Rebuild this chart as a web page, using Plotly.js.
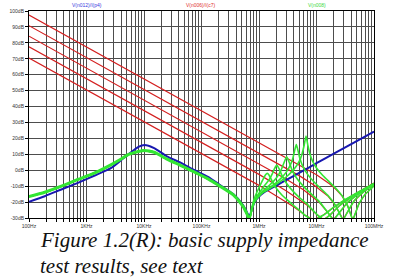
<!DOCTYPE html>
<html>
<head>
<meta charset="utf-8">
<script src="https://cdn.plot.ly/plotly-3.0.1.min.js"></script>
<style>
html,body{margin:0;padding:0;background:#fff;}
#chart{width:398px;height:278px;}
</style>
</head>
<body>
<div id="chart"></div>
<script>
// ---- data ----
const seriesNames = ['V(n012)/I(p4)', 'V(n006)/I(c7)', 'V(n008)'];

const blueF  = [100, 188, 365, 710, 1390, 2700, 4000, 5300, 8000, 10200, 15000, 25000, 44000, 76000, 130000, 210000, 357000, 530000, 600000, 680000, 760000, 850000, 1e6, 1.2e6, 1.5e6, 2e6, 3e6, 5e6, 1e7, 2e7, 5e7, 1e8];
const blueDb = [-19.8, -16.3, -12.1, -7.9, -3.3, 1.5, 6.3, 9.8, 14.6, 15.8, 13.9, 8.75, 4.6, 0, -4.2, -9.3, -15, -22, -25.5, -29, -24, -19.5, -16.5, -14.1, -12.1, -9.6, -6.1, -1.7, 4.4, 10.4, 18.3, 24.3];

const redAF  = [100, 1e6, 2e6, 3e6, 4e6, 5e6, 6.5e6, 9e6, 13e6, 20e6, 30e6, 50e6, 1e8];
const redADb = [70.5, -9.5, -16.2, -20.0, -22.9, -25.5, -28.6, -31, -28.3, -23.2, -19.0, -14.3, -8.1];
const redBF  = [100, 1e6, 3e6, 5e6, 7e6, 10e6, 13.3e6, 17e6, 25e6, 40e6, 60e6, 1e8];
const redBDb = [77.5, -2.6, -13.1, -18.4, -22.2, -27.7, -31, -28.3, -22.3, -17.0, -12.9, -8.2];
const redCF  = [100, 1e6, 3e6, 6e6, 8e6, 11e6, 15e6, 19.75e6, 25e6, 35e6, 55e6, 1e8];
const redCDb = [84.2, 4.2, -5.6, -12.4, -15.8, -19.9, -25.7, -31, -26.6, -20.1, -14.4, -8.3];
const redDF  = [100, 1e6, 5e6, 9e6, 12e6, 16e6, 21e6, 25e6, 29e6, 34e6, 45e6, 65e6, 1e8];
const redDDb = [90.8, 10.8, -3.4, -9.3, -12.6, -16.4, -21.8, -27.0, -31, -26.8, -19.3, -13.7, -8.8];
const redEF  = [100, 1e6, 10e6, 17e6, 22e6, 28e6, 35e6, 39e6, 42.8e6, 47e6, 55e6, 70e6, 1e8];
const redEDb = [97.5, 17.5, -2.9, -8.7, -12.1, -16.3, -22.6, -27.4, -31, -27.4, -20.8, -15.1, -9.7];

// green: shared low-frequency part, then one high-frequency part per capacitor
const greenLowF  = [100, 188, 365, 710, 1390, 2700, 4000, 5300, 9300, 15000, 25000, 44000, 76000, 130000, 210000, 357000, 530000, 600000, 680000];
const greenLowDb = [-16.5, -13.8, -10, -5.8, -1.7, 3.5, 7, 9.8, 12.3, 11.3, 7, 2.9, -1.25, -5.4, -10, -15.5, -22.8, -26.5, -31];

const greenAF  = [760e3, 850e3, 1e6, 1.2e6, 1.3e6, 1.39e6, 1.5e6, 1.7e6, 2e6, 2.5e6, 3e6, 4e6, 5e6, 6.5e6, 9e6, 13e6, 20e6, 30e6, 50e6, 1e8];
const greenADb = [-22.6, -16.7, -11.0, -5.1, -2.8, -2.0, -3.1, -7.0, -11.3, -15.6, -18.2, -22.2, -25.0, -28.6, -31.1, -28.3, -23.2, -19.0, -14.3, -8.3];
const greenBF  = [760e3, 850e3, 1e6, 1.2e6, 1.5e6, 1.7e6, 1.85e6, 2.04e6, 2.25e6, 2.5e6, 3e6, 4e6, 5e6, 7e6, 10e6, 13.3e6, 17e6, 25e6, 40e6, 60e6, 1e8];
const greenBDb = [-23.4, -18.3, -14.4, -10.5, -6.0, -2.3, 0.8, 3.2, 0.7, -3.2, -8.2, -13.6, -17.0, -21.6, -27.5, -31, -28.3, -22.3, -17.0, -13.1, -8.4];
const greenCF  = [760e3, 850e3, 1e6, 1.2e6, 1.5e6, 2e6, 2.4e6, 2.7e6, 3.03e6, 3.35e6, 3.8e6, 4.5e6, 6e6, 8e6, 11e6, 15e6, 19.75e6, 25e6, 35e6, 55e6, 1e8];
const greenCDb = [-23.7, -19.0, -15.6, -12.6, -9.7, -4.9, -0.2, 4.4, 8.4, 5.0, -0.2, -4.9, -10.3, -14.7, -19.4, -25.5, -31, -26.6, -20.1, -14.6, -8.5];
const greenDF  = [760e3, 850e3, 1e6, 1.2e6, 1.5e6, 2e6, 2.5e6, 3e6, 3.5e6, 3.9e6, 4.2e6, 4.46e6, 4.75e6, 5.1e6, 5.7e6, 7e6, 9e6, 12e6, 16e6, 21e6, 25e6, 29e6, 34e6, 45e6, 65e6, 1e8];
const greenDDb = [-23.9, -19.3, -16.1, -13.4, -11.1, -7.7, -4.5, -1.05, 3.2, 7.9, 12.9, 16.2, 12.6, 7.8, 2.9, -2.6, -7.2, -11.6, -16.0, -21.6, -26.9, -31, -26.8, -19.4, -13.8, -9.0];
const greenEF  = [760e3, 850e3, 1e6, 1.2e6, 1.5e6, 2e6, 3e6, 4e6, 5e6, 5.6e6, 6.1e6, 6.57e6, 7.1e6, 7.7e6, 8.5e6, 10e6, 13e6, 17e6, 22e6, 28e6, 35e6, 39e6, 42.8e6, 47e6, 55e6, 70e6, 1e8];
const greenEDb = [-24.0, -19.4, -16.3, -13.8, -11.7, -8.8, -4.1, 0.3, 5.6, 10.1, 15.7, 21.4, 15.4, 10.0, 5.9, 1.4, -3.5, -7.6, -11.6, -16.1, -22.5, -27.4, -31, -27.4, -20.9, -15.2, -9.9];

const xTickDecades = [100, 1e3, 1e4, 1e5, 1e6, 1e7, 1e8];
const xTickLabels  = ['100Hz', '1KHz', '10KHz', '100KHz', '1MHz', '10MHz', '100MHz'];
const yTickVals    = [-30, -20, -10, 0, 10, 20, 30, 40, 50, 60, 70, 80, 90, 100];
const yTickLabels  = ['-30dB', '-20dB', '-10dB', '0dB', '10dB', '20dB', '30dB', '40dB', '50dB', '60dB', '70dB', '80dB', '90dB', '100dB'];
const captionLines = ['Figure 1.2(R): basic supply impedance', 'test results, see text'];

// ---- build ----
const RED = '#d42020', BLUE = '#1818b0', GREEN = '#33e633';
const traces = [];
[[redAF, redADb], [redBF, redBDb], [redCF, redCDb], [redDF, redDDb], [redEF, redEDb]].forEach(p => {
  traces.push({x: p[0], y: p[1], type: 'scatter', mode: 'lines', name: seriesNames[1],
    line: {color: RED, width: 1.2}, hoverinfo: 'skip'});
});
traces.push({x: blueF, y: blueDb, type: 'scatter', mode: 'lines', name: seriesNames[0],
  line: {color: BLUE, width: 2, shape: 'spline', smoothing: 0.6}, hoverinfo: 'skip'});
traces.push({x: greenLowF, y: greenLowDb, type: 'scatter', mode: 'lines', name: seriesNames[2],
  line: {color: GREEN, width: 3, shape: 'spline', smoothing: 0.6}, hoverinfo: 'skip'});
[[greenAF, greenADb], [greenBF, greenBDb], [greenCF, greenCDb], [greenDF, greenDDb], [greenEF, greenEDb]].forEach(p => {
  traces.push({x: greenLowF.concat(p[0]), y: greenLowDb.concat(p[1]), type: 'scatter', mode: 'lines',
    name: seriesNames[2], line: {color: GREEN, width: 1.6, shape: 'spline', smoothing: 0.5}, hoverinfo: 'skip'});
});

// x ticks at 1..9 of every decade, labels only at decades
const xTickVals = [], xTickText = [];
xTickDecades.forEach((d, i) => {
  if (i === xTickDecades.length - 1) { xTickVals.push(d); xTickText.push(xTickLabels[i]); return; }
  for (let m = 1; m <= 9; m++) { xTickVals.push(d * m); xTickText.push(m === 1 ? xTickLabels[i] : ''); }
});

const W = 398, H = 278, L = 29, R = 24, T = 11, B = 60;
const pw = W - L - R, ph = H - T - B;
const px = xp => (xp - L) / pw;
const py = yp => (H - B - yp) / ph;
const tickFont = {family: 'Liberation Sans, Arial, sans-serif', size: 5, color: '#333'};

const layout = {
  width: W, height: H,
  margin: {l: L, r: R, t: T, b: B, pad: 0},
  paper_bgcolor: '#fff', plot_bgcolor: '#fff',
  showlegend: false,
  xaxis: {type: 'log', range: [2, 8], tickmode: 'array', tickvals: xTickVals, ticktext: xTickText,
    showgrid: true, gridcolor: '#4d4d4d', gridwidth: 1, zeroline: false,
    showline: true, linecolor: '#000', linewidth: 1, mirror: true,
    ticks: 'outside', ticklen: 3, tickcolor: '#000', tickwidth: 1, tickfont: tickFont},
  yaxis: {range: [-30, 100], tickmode: 'array', tickvals: yTickVals, ticktext: yTickLabels,
    showgrid: true, gridcolor: '#4d4d4d', gridwidth: 1, zeroline: false,
    showline: true, linecolor: '#000', linewidth: 1, mirror: true,
    ticks: 'outside', ticklen: 3, tickcolor: '#000', tickwidth: 1, tickfont: tickFont},
  annotations: [
    {text: seriesNames[0], xref: 'paper', yref: 'paper', x: px(87), y: py(5), xanchor: 'center', yanchor: 'middle',
      showarrow: false, font: {family: 'Liberation Sans, Arial, sans-serif', size: 5, color: '#3a3ae0'}},
    {text: seriesNames[1], xref: 'paper', yref: 'paper', x: px(201), y: py(5), xanchor: 'center', yanchor: 'middle',
      showarrow: false, font: {family: 'Liberation Sans, Arial, sans-serif', size: 5, color: '#e03030'}},
    {text: seriesNames[2], xref: 'paper', yref: 'paper', x: px(317), y: py(5), xanchor: 'center', yanchor: 'middle',
      showarrow: false, font: {family: 'Liberation Sans, Arial, sans-serif', size: 5, color: '#40d840'}},
    {text: '<i>' + captionLines[0] + '</i>', xref: 'paper', yref: 'paper', x: px(38), y: py(240), xanchor: 'left', yanchor: 'middle',
      showarrow: false, font: {family: 'Liberation Serif, Times New Roman, serif', size: 21, color: '#111'}},
    {text: '<i>' + captionLines[1] + '</i>', xref: 'paper', yref: 'paper', x: px(38), y: py(266), xanchor: 'left', yanchor: 'middle',
      showarrow: false, font: {family: 'Liberation Serif, Times New Roman, serif', size: 21, color: '#111'}}
  ]
};

Plotly.newPlot('chart', traces, layout, {displayModeBar: false, staticPlot: true});
</script>
</body>
</html>
